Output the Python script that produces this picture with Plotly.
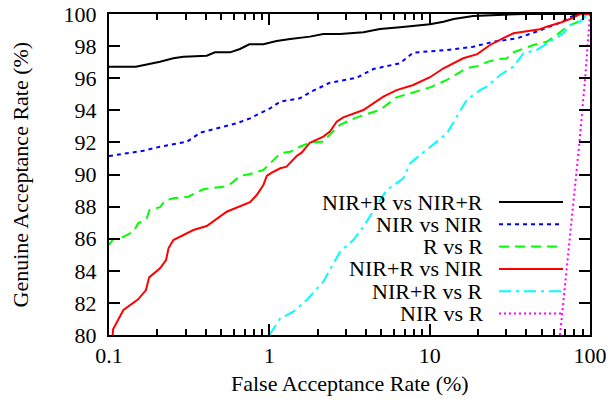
import plotly.graph_objects as go

# ---- data ----
labels = ["NIR+R vs NIR+R", "NIR vs NIR", "R vs R", "NIR+R vs NIR", "NIR+R vs R", "NIR vs R"]

far_nirr_nirr = [0.1, 0.147, 0.208, 0.252, 0.291, 0.407, 0.458, 0.569, 0.656, 0.75, 0.918, 1.11, 1.35,
                 1.79, 2.17, 2.76, 3.86, 4.9, 6.53, 10.05, 12.2, 14.1, 18.7, 30.2, 38.4, 100]
gar_nirr_nirr = [96.72, 96.72, 97.03, 97.24, 97.34, 97.40, 97.61, 97.61, 97.82, 98.11, 98.11, 98.32, 98.44,
                 98.59, 98.75, 98.75, 98.86, 99.07, 99.17, 99.36, 99.52, 99.69, 99.88, 99.94, 100, 100]

far_nir_nir = [0.1, 0.129, 0.164, 0.208, 0.252, 0.306, 0.37, 0.469, 0.624, 0.758, 1.01, 1.17, 1.55, 1.88,
               2.39, 3.51, 4.45, 6.53, 7.9, 12.8, 18.7, 24.9, 34.9, 46.5, 65, 75, 84.5]
gar_nir_nir = [91.15, 91.32, 91.48, 91.73, 91.90, 92.04, 92.60, 92.88, 93.19, 93.50, 94.12, 94.54, 94.75, 95.22,
               95.72, 96.03, 96.57, 96.93, 97.59, 97.76, 97.96, 98.27, 98.48, 98.90, 99.46, 99.79, 100]

far_r_r = [0.1, 0.106, 0.123, 0.142, 0.152, 0.172, 0.179, 0.208, 0.223, 0.252, 0.312, 0.387, 0.517, 0.58,
           0.656, 0.758, 0.918, 1.01, 1.17, 1.35, 1.55, 1.79, 2.17, 2.39, 2.76, 3.51, 4.9, 6.22, 8.3, 10.05,
           12.8, 17.0, 19.8, 22.7, 26.7, 30.2, 33.0, 36.6, 44.3, 53.7, 62, 71.6, 82, 90.8, 95, 100]
gar_r_r = [85.61, 85.96, 86.12, 86.44, 86.96, 87.27, 87.79, 87.96, 88.37, 88.52, 88.62, 89.08, 89.24, 89.45,
           89.91, 90.03, 90.28, 90.70, 91.32, 91.42, 91.73, 91.99, 92.04, 92.50, 93.10, 93.56, 94.02, 94.81, 95.16, 95.43,
           95.89, 96.62, 96.75, 97.0, 97.2, 97.22, 97.6, 97.76, 98.07, 98.27, 98.69, 99.21, 99.46, 99.73, 100, 100]

far_nirr_nir = [0.1055, 0.106, 0.123, 0.152, 0.170, 0.178, 0.208, 0.227, 0.235, 0.252, 0.336, 0.407, 0.542,
                0.758, 0.834, 0.918, 0.964, 1.035, 1.17, 1.28, 1.48, 1.59, 1.79, 2.17, 2.39, 2.63, 2.89, 3.86,
                5.14, 6.22, 7.9, 10.05, 12.2, 16.2, 19.8, 23.8, 28.8, 33.3, 38.4, 48.8, 53.7, 65, 75, 86.7, 100]
gar_nirr_nir = [80, 80.35, 81.56, 82.22, 82.80, 83.59, 84.16, 84.67, 85.40, 85.92, 86.54, 86.79, 87.68,
                88.27, 88.72, 89.35, 89.91, 90.12, 90.39, 90.49, 91.15, 91.36, 91.98, 92.36, 92.67, 93.29, 93.56, 94.02,
                94.85, 95.26, 95.58, 96.06, 96.62, 97.24, 97.50, 98.07, 98.50, 98.80, 98.90, 99.05, 99.21, 99.45, 99.69, 100, 100]

far_nirr_r = [1.0, 1.17, 1.41, 1.71, 2.17, 2.39, 2.76, 3.34, 3.86, 5.39, 6.85, 7.54, 9.59, 12.8, 17.0, 20.6,
              22.7, 27.5, 33.3, 38.4, 46.5, 59, 68.2, 75, 86.7, 93, 96, 100]
gar_nirr_r = [80, 81.04, 81.45, 82.18, 83.32, 84.05, 85.19, 85.92, 86.75, 89.03, 89.76, 90.70, 91.53, 92.56, 94.64, 95.26,
              95.48, 96.2, 96.72, 97.55, 97.76, 98.38, 98.8, 99.31, 99.52, 99.83, 100, 100]

far_nir_r = [65, 71.6, 78.7, 85.8, 93.1, 100]
gar_nir_r = [80, 84.05, 87.99, 91.94, 95.89, 100]

x_tick_vals = [0.1, 1, 10, 100]
x_tick_text = ["0.1", "1", "10", "100"]

series_x = [far_nirr_nirr, far_nir_nir, far_r_r, far_nirr_nir, far_nirr_r, far_nir_r]
series_y = [gar_nirr_nirr, gar_nir_nir, gar_r_r, gar_nirr_nir, gar_nirr_r, gar_nir_r]

# ---- styles ----
colors = ["#000000", "#0000ff", "#00ff00", "#ff0000", "#00ffff", "#ff00ff"]
dashes = ["solid", "4px,4px", "10px,6px", "solid", "12px,5px,3px,5px", "2px,3px"]
FONT = "Liberation Serif"
FS = 22

fig = go.Figure()
for xs, ys, c, d, name in zip(series_x, series_y, colors, dashes, labels):
    fig.add_trace(go.Scatter(x=xs, y=ys, mode="lines", name=name,
                             line=dict(color=c, width=2, dash=d), showlegend=False))

# manual legend (text to the left of sample line, gnuplot style)
L, R, T, B = 109, 590, 14, 335
def px2paper(px, py):
    return (px - L) / (R - L), (B - py) / (B - T)

for i, (name, c, d) in enumerate(zip(labels, colors, dashes)):
    py = 202 + 22.3 * i
    tx, ty = px2paper(484, py)
    fig.add_annotation(x=tx, y=ty, xref="paper", yref="paper", text=name, showarrow=False,
                       xanchor="right", yanchor="middle", height=21, borderpad=0,
                       font=dict(family=FONT, size=FS, color="black"))
    x0, _ = px2paper(499, py)
    x1, _ = px2paper(563, py)
    fig.add_shape(type="line", xref="paper", yref="paper", x0=x0, x1=x1, y0=ty, y1=ty,
                  line=dict(color=c, width=2, dash=d))

# axis titles as annotations (gnuplot-like placement)
fig.add_annotation(x=0.5, y=0, xref="paper", yref="paper", yshift=-48, text="False Acceptance Rate (%)",
                   showarrow=False, xanchor="center", yanchor="middle",
                   font=dict(family=FONT, size=FS, color="black"))
fig.add_annotation(x=0, y=0.5, xref="paper", yref="paper", xshift=-89, text="Genuine Acceptance Rate (%)",
                   showarrow=False, textangle=-90, xanchor="center", yanchor="middle",
                   font=dict(family=FONT, size=FS, color="black"))

minor_vals = [m * 10 ** e for e in (-1, 0, 1) for m in range(2, 10)]

fig.update_xaxes(type="log", range=[-1, 2], tickvals=x_tick_vals, ticktext=x_tick_text,
                 ticks="inside", ticklen=11, tickwidth=2, tickcolor="black",
                 showline=True, linecolor="black", linewidth=2, mirror="allticks",
                 showgrid=False, zeroline=False, automargin=False,
                 minor=dict(tickvals=minor_vals, ticks="inside", ticklen=6, tickwidth=1.5,
                            tickcolor="black", showgrid=False),
                 tickfont=dict(family=FONT, size=FS, color="black"), ticklabelstandoff=0)
fig.update_yaxes(range=[80, 100], dtick=2, tick0=80,
                 ticks="inside", ticklen=11, tickwidth=2, tickcolor="black",
                 showline=True, linecolor="black", linewidth=2, mirror="allticks",
                 showgrid=False, zeroline=False, automargin=False,
                 tickfont=dict(family=FONT, size=FS, color="black"), ticklabelstandoff=6)

fig.update_layout(width=611, height=406, margin=dict(l=L, r=611 - R, t=T, b=406 - B),
                  plot_bgcolor="white", paper_bgcolor="white",
                  font=dict(family=FONT, size=FS, color="black"))

fig.write_html("out.html", config={"displayModeBar": False, "responsive": False},
               post_script="document.body.style.margin='0';document.body.style.overflow='hidden';")
